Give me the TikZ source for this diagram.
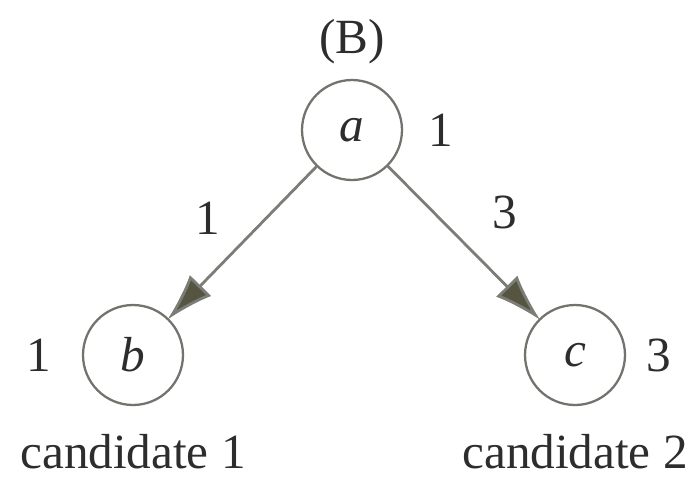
\documentclass[tikz,border=0pt]{standalone}
\usepackage{fontspec}
\setmainfont{Liberation Serif}
\usepackage{xcolor}
\definecolor{RingGray}{RGB}{115,115,110}
\definecolor{EdgeGray}{RGB}{125,125,120}
\definecolor{TipOlive}{RGB}{85,85,65}
\definecolor{InkGray}{RGB}{45,45,45}
\usetikzlibrary{arrows.meta,positioning}

\begin{document}
\begin{tikzpicture}[
  x=0.02cm, y=-0.02cm,
  vert/.style={circle, draw=RingGray, line width=1.3pt, minimum size=2cm,
               inner sep=0pt, font=\fontsize{28}{32}\selectfont\itshape, text=InkGray},
  txt/.style={font=\fontsize{28}{32}\selectfont, text=InkGray, inner sep=0pt},
  arr/.style={-{Latex[length=0.95cm, width=0.6cm, fill=TipOlive]}, line width=1.6pt,
              color=EdgeGray, shorten >=-1pt}
]
  \useasboundingbox (0,0) rectangle (699,478);
  \node[vert] (a) at (352,130) {a};
  \node[vert] (b) at (133,355) {b};
  \node[vert] (c) at (575,355) {c};

  \node[txt] (title) at (352,42) {(B)};
  \node[txt, right=0.5cm of a] (wa) {1};
  \node[txt, left=0.6cm of b] (wb) {1};
  \node[txt, right=0.4cm of c] (wc) {3};
  \node[txt, anchor=base] (cand1) at (133,468) {candidate 1};
  \node[txt, anchor=base] (cand2) at (575,468) {candidate 2};

  \draw[arr] (a)--(b);
  \draw[arr] (a)--(c);
  \node[txt] (eab) at (208,218) {1};
  \node[txt] (eac) at (505,212) {3};
\end{tikzpicture}
\end{document}
